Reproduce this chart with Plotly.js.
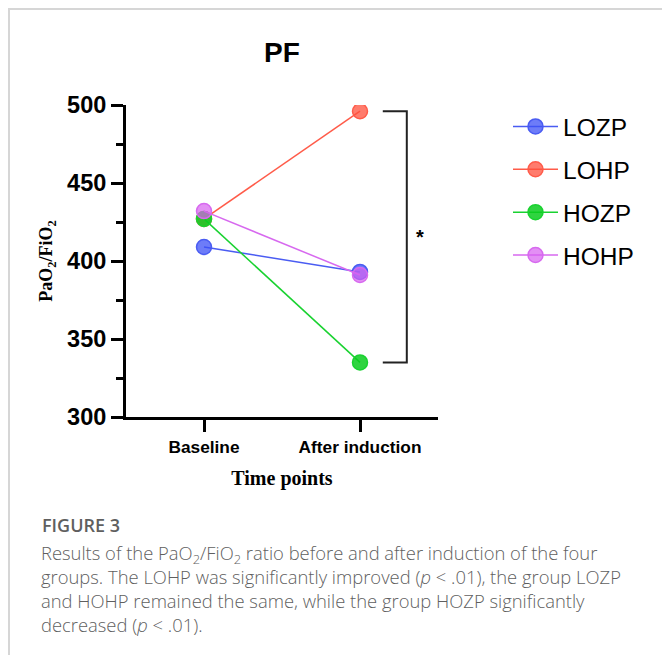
<!DOCTYPE html>
<html>
<head>
<meta charset="utf-8">
<script src="https://cdn.plot.ly/plotly-3.0.1.min.js"></script>
<style>
html,body{margin:0;padding:0;background:#fff;}
#wrap{position:relative;width:662px;height:655px;}
#frame{position:absolute;left:8px;top:8px;width:660px;height:650px;border-top:2px solid #d6d6d6;border-left:2px solid #d6d6d6;pointer-events:none;}
</style>
</head>
<body>
<div id="wrap"><div id="chart" style="width:662px;height:655px;"></div><div id="frame"></div></div>
<script>
const timePoints = ["Baseline", "After induction"];
const groups = ["LOZP", "LOHP", "HOZP", "HOHP"];
const LOZP = [409, 393];
const LOHP = [427, 496];
const HOZP = [427, 335];
const HOHP = [432, 391];
const groupValues = [LOZP, LOHP, HOZP, HOHP];
const lineColors = ["#4a5cf2", "#ff5b49", "#19d230", "#d769ef"];
const fillColors = ["rgba(60,80,245,0.75)", "rgba(255,80,60,0.75)", "rgba(10,205,30,0.85)", "rgba(215,95,240,0.7)"];

const traces = groups.map((g, i) => ({
  type: "scatter",
  mode: "lines+markers",
  name: g,
  legendgroup: g,
  x: timePoints,
  y: groupValues[i],
  line: {color: lineColors[i], width: 1.5},
  marker: {size: 15, color: fillColors[i], line: {color: lineColors[i], width: 1.5}}
}));

const L = 126, R = 224, T = 105, B = 238, W = 662, H = 655;
const ph = H - T - B, pw = W - L - R;
function py(p) { return (H - B - p) / ph; }
function px(p) { return (p - L) / pw; }

const brTop = LOHP[1], brBot = HOZP[1];
const captionLines = [
  "Results of the PaO<sub>2</sub>/FiO<sub>2</sub> ratio before and after induction of the four",
  "groups. The LOHP was significantly improved (<i>p</i> &lt; .01), the group LOZP",
  "and HOHP remained the same, while the group HOZP significantly",
  "decreased (<i>p</i> &lt; .01)."
];
const annotations = [
  {xref: "x", yref: "y", x: 1.385, y: (brTop + brBot) / 2, text: "*", showarrow: false,
   font: {family: "Liberation Sans, Arial", size: 20, color: "#000", weight: "bold"}},
  {xref: "paper", yref: "paper", x: px(40), y: py(525), xanchor: "left", yanchor: "middle",
   text: "FIGURE 3", showarrow: false, font: {family: "Open Sans", size: 18, color: "#5f5f5f", weight: 600}},
  {xref: "paper", yref: "paper", x: px(39), y: py(538), xanchor: "left", yanchor: "top", align: "left",
   text: captionLines.join("<br>"), showarrow: false,
   font: {family: "Open Sans", size: 18.4, color: "#5f5f5f", weight: 300}}
];

const layout = {
  width: W, height: H,
  margin: {l: L, r: R, t: T, b: B, pad: 0},
  paper_bgcolor: "#fff", plot_bgcolor: "#fff",
  title: {text: "PF", x: 0.5, xref: "paper", y: 1 - 52 / H, yanchor: "middle",
          font: {family: "Liberation Sans, Arial", size: 28, color: "#000", weight: "bold"}},
  xaxis: {
    type: "category", range: [-0.5, 1.5], showgrid: false, zeroline: false,
    showline: true, linecolor: "#000", linewidth: 3,
    ticks: "outside", ticklen: 12, tickwidth: 3, tickcolor: "#000",
    tickfont: {family: "Liberation Sans, Arial", size: 17.3, color: "#000", weight: "bold"},
    title: {text: "Time points", standoff: 16,
            font: {family: "Liberation Serif, Times New Roman", size: 20, color: "#000", weight: "bold"}}
  },
  yaxis: {
    range: [300, 500], dtick: 50, tick0: 300, showgrid: false, zeroline: false,
    showline: true, linecolor: "#000", linewidth: 3,
    ticks: "outside", ticklen: 12, tickwidth: 3, tickcolor: "#000",
    minor: {dtick: 25, ticks: "outside", ticklen: 7, tickwidth: 3, tickcolor: "#000", showgrid: false},
    tickfont: {family: "Liberation Sans, Arial", size: 23.5, color: "#000", weight: "bold"},
    title: {text: "PaO<sub>2</sub>/FiO<sub>2</sub>", standoff: 10,
            font: {family: "Liberation Serif, Times New Roman", size: 18, color: "#000", weight: "bold"}}
  },
  legend: {
    x: px(508), y: py(104), xanchor: "left", yanchor: "top",
    font: {family: "Liberation Sans, Arial", size: 24.5, color: "#000"},
    itemwidth: 45,
    tracegroupgap: 8, bgcolor: "rgba(0,0,0,0)", borderwidth: 0
  },
  shapes: [{
    type: "path", xref: "x", yref: "y",
    path: `M 1.146 ${brTop} L 1.3 ${brTop} L 1.3 ${brBot} L 1.146 ${brBot}`,
    line: {color: "#222", width: 2}
  }],
  annotations: annotations
};

Plotly.newPlot("chart", traces, layout, {displayModeBar: false, staticPlot: true});
</script>
</body>
</html>
